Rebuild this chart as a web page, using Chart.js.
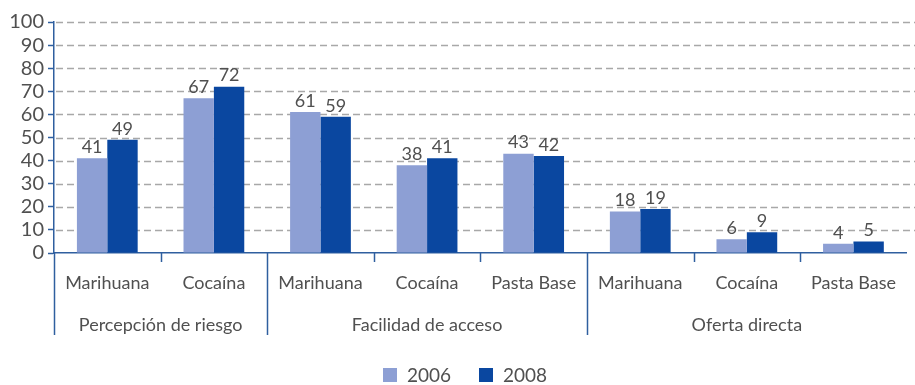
<!DOCTYPE html>
<html>
<head>
<meta charset="utf-8">
<script src="https://cdn.jsdelivr.net/npm/chart.js@4.4.0/dist/chart.umd.min.js"></script>
<style>
  html, body { margin: 0; padding: 0; background: #ffffff; }
  #wrap { width: 915px; height: 385px; position: relative; }
</style>
</head>
<body>
<div id="wrap"><canvas id="c" width="915" height="385"></canvas></div>
<script>
const categories = ['Marihuana', 'Cocaína', 'Marihuana', 'Cocaína', 'Pasta Base', 'Marihuana', 'Cocaína', 'Pasta Base'];
const groupNames = ['Percepción de riesgo', 'Facilidad de acceso', 'Oferta directa'];
const groupSizes = [2, 3, 3];
const seriesNames = ['2006', '2008'];
const values2006 = [41, 67, 61, 38, 43, 18, 6, 4];
const values2008 = [49, 72, 59, 41, 42, 19, 9, 5];
const yMin = 0, yMax = 100, yStep = 10;

const FONT = 'Lato, "Open Sans", sans-serif';
const TEXT = '#505050';
const AXIS = '#2f5f9f';
const LIGHT = '#8d9fd4';
const DARK = '#0a47a0';

const groupPlugin = {
  id: 'groups',
  beforeDatasetsDraw(chart) {
    const ctx = chart.ctx;
    const y = chart.scales.y;
    const area = chart.chartArea;
    ctx.save();
    ctx.strokeStyle = '#a8a8a8';
    ctx.lineWidth = 1.3;
    ctx.setLineDash([7, 4]);
    y.ticks.forEach(t => {
      if (t.value === yMin) return;
      const py = Math.round(y.getPixelForValue(t.value)) + 0.5;
      ctx.beginPath();
      ctx.moveTo(area.left + 2, py);
      ctx.lineTo(chart.width, py);
      ctx.stroke();
    });
    ctx.restore();
  },
  afterDraw(chart) {
    const ctx = chart.ctx;
    const x = chart.scales.x;
    const area = chart.chartArea;
    const half = (x.getPixelForValue(1) - x.getPixelForValue(0)) / 2;
    const bound = i => x.getPixelForValue(i) - half;
    const groupStarts = [0];
    groupSizes.forEach((s, k) => groupStarts.push(groupStarts[k] + s));
    ctx.save();
    ctx.strokeStyle = AXIS;
    ctx.lineWidth = 1.5;
    for (let i = 0; i < categories.length; i++) {
      const px = Math.round(bound(i)) + 0.5;
      const isGroup = groupStarts.includes(i);
      ctx.beginPath();
      ctx.moveTo(px, area.bottom);
      ctx.lineTo(px, area.bottom + (isGroup ? 82 : 9));
      ctx.stroke();
    }
    ctx.fillStyle = TEXT;
    ctx.font = '18px ' + FONT;
    ctx.textAlign = 'center';
    ctx.textBaseline = 'middle';
    for (let k = 0; k < groupNames.length; k++) {
      const cx = (bound(groupStarts[k]) + bound(groupStarts[k + 1])) / 2;
      ctx.fillText(groupNames[k], cx, area.bottom + 72);
    }

    // legend
    ctx.font = '19px ' + FONT;
    ctx.textAlign = 'left';
    const box = 14, gapText = 10, gapItem = 28;
    const items = chart.data.datasets.map(ds => ({ label: ds.label, color: ds.backgroundColor, w: ctx.measureText(ds.label).width }));
    const total = items.reduce((s, it) => s + box + gapText + it.w, 0) + gapItem * (items.length - 1);
    let lx = 465 - total / 2;
    const ly = 375;
    items.forEach(it => {
      ctx.fillStyle = it.color;
      ctx.fillRect(Math.round(lx), ly - box / 2, box, box);
      ctx.fillStyle = TEXT;
      ctx.fillText(it.label, lx + box + gapText, ly + 1);
      lx += box + gapText + it.w + gapItem;
    });
    ctx.restore();
  },
  afterDatasetsDraw(chart) {
    const ctx = chart.ctx;
    ctx.save();
    ctx.fillStyle = TEXT;
    ctx.font = '18px ' + FONT;
    ctx.textAlign = 'center';
    ctx.textBaseline = 'bottom';
    chart.data.datasets.forEach((ds, di) => {
      const meta = chart.getDatasetMeta(di);
      meta.data.forEach((el, i) => {
        ctx.fillText(String(ds.data[i]), el.x, el.y - 2);
      });
    });
    ctx.restore();
  }
};

new Chart(document.getElementById('c'), {
  type: 'bar',
  data: {
    labels: categories,
    datasets: [
      { label: seriesNames[0], data: values2006, backgroundColor: LIGHT, borderWidth: 0 },
      { label: seriesNames[1], data: values2008, backgroundColor: DARK, borderWidth: 0 }
    ]
  },
  options: {
    responsive: false,
    animation: false,
    devicePixelRatio: 1,
    categoryPercentage: 0.57,
    barPercentage: 1.0,
    layout: { padding: { top: 22, right: 1, left: 0, bottom: 0 } },
    plugins: {
      tooltip: { enabled: false },
      legend: { display: false }
    },
    scales: {
      x: {
        grid: { display: false, drawTicks: false },
        border: { color: AXIS, width: 1.5 },
        ticks: { color: TEXT, font: { family: FONT, size: 18 }, padding: 19, maxRotation: 0, autoSkip: false },
        afterFit(scale) { scale.height = 132; }
      },
      y: {
        min: yMin, max: yMax,
        ticks: { stepSize: yStep, autoSkip: false, color: TEXT, font: { family: FONT, size: 20 }, padding: 4 },
        grid: { drawOnChartArea: false, tickColor: AXIS, tickLength: 6, tickWidth: 1.5 },
        border: { color: AXIS, width: 1.5 },
        afterFit(scale) { scale.width = 54; }
      }
    }
  },
  plugins: [groupPlugin]
});
</script>
</body>
</html>
